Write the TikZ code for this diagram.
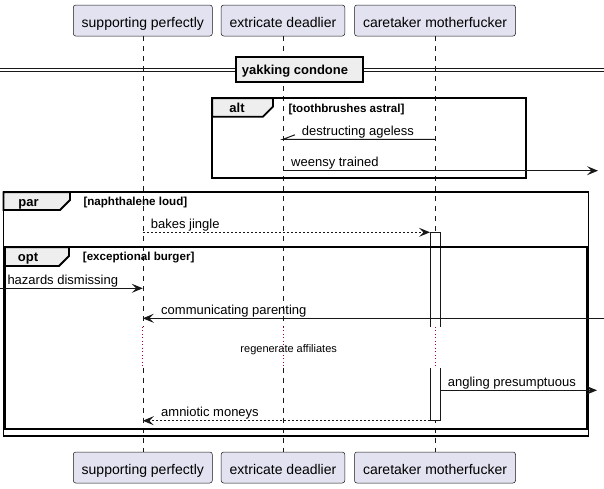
\documentclass[tikz,border=0pt]{standalone}
\usepackage{fontspec}
\setmainfont{Liberation Sans}
\usetikzlibrary{arrows.meta}
\definecolor{pbox}{HTML}{E2E2F0}
\definecolor{pline}{HTML}{181818}
\definecolor{tabfill}{HTML}{EEEEEE}
\definecolor{delaycol}{HTML}{A80036}
\begin{document}
\begin{tikzpicture}[x=1pt,y=-1pt,
  part/.style={draw=pline,line width=0.5pt,fill=pbox,rounded corners=2.5pt,inner sep=0pt,text height=22pt,text depth=9pt,font=\fontsize{14}{16}\selectfont},
  life/.style={draw=pline,line width=0.5pt,dash pattern=on 5pt off 5pt},
  delayline/.style={draw=delaycol,line width=0.8pt,dash pattern=on 1pt off 2.5pt},
  frame/.style={draw=black,line width=1.8pt},
  tabshape/.style={draw=black,line width=1.8pt,fill=tabfill},
  tablabel/.style={anchor=base,inner sep=0pt,font=\bfseries\fontsize{13}{15}\selectfont},
  cond/.style={anchor=base west,inner sep=0pt,font=\bfseries\fontsize{11.6}{13}\selectfont},
  msgtext/.style={anchor=base west,inner sep=0pt,font=\fontsize{13}{15}\selectfont},
  msg/.style={draw=pline,line width=1pt,-{Stealth[length=11pt,width=9pt,inset=4.5pt]}},
  ret/.style={msg,dash pattern=on 2pt off 2pt},
  act/.style={draw=pline,line width=1pt},
]
\useasboundingbox (0,0) rectangle (604,488);
% participants
\node[part,minimum width=139pt] (p1t) at (142.8,20.5) {supporting perfectly};
\node[part,minimum width=123.6pt] (p2t) at (283,20.5) {extricate deadlier};
\node[part,minimum width=161pt] (p3t) at (435,20.5) {caretaker motherfucker};
\node[part,minimum width=139pt] (p1b) at (142.8,467.5) {supporting perfectly};
\node[part,minimum width=123.6pt] (p2b) at (283,467.5) {extricate deadlier};
\node[part,minimum width=161pt] (p3b) at (435,467.5) {caretaker motherfucker};
% lifelines with delay
\coordinate (d1a) at (142.8,326.7); \coordinate (d1b) at (142.8,367.5);
\coordinate (d2a) at (283,326.7);   \coordinate (d2b) at (283,367.5);
\coordinate (d3a) at (435,326.7);   \coordinate (d3b) at (435,367.5);
\draw[life] (p1t.south) -- (d1a); \draw[delayline] (d1a) -- (d1b); \draw[life] (d1b) -- (p1b.north);
\draw[life] (p2t.south) -- (d2a); \draw[delayline] (d2a) -- (d2b); \draw[life] (d2b) -- (p2b.north);
\draw[life] (p3t.south) -- (d3a); \draw[delayline] (d3a) -- (d3b); \draw[life] (d3b) -- (p3b.north);
% separator
\draw[pline,line width=1.1pt] (0,68.7) -- (604,68.7);
\draw[pline,line width=1.1pt] (0,71.7) -- (604,71.7);
\node[draw=black,line width=1.8pt,fill=tabfill,minimum width=127pt,minimum height=24.7pt,inner sep=0pt] (sep) at (299.2,69.65) {};
\node[tablabel,anchor=base west] (septext) at (241.7,74) {yakking condone};
% activations
\fill[white] (430,232.3) rectangle (440,326.7);
\draw[act] (430,326.7) -- (430,232.3) -- (440,232.3) -- (440,326.7);
\fill[white] (430,368.3) rectangle (440,420.7);
\draw[act] (430,368.3) -- (430,420.7) -- (440,420.7) -- (440,368.3);
% alt group
\draw[frame] (212.3,98.3) rectangle (525.7,178.3);
\draw[tabshape] (212.3,98.3) -- (273,98.3) -- (273,106.7) -- (263,116.7) -- (212.3,116.7) -- cycle;
\node[tablabel] (altlbl) at (237,112.8) {alt};
\node[cond] (altcond) at (288.3,112.3) {[toothbrushes astral]};
% par group
\draw[frame] (3.5,192.3) rectangle (588.5,436);
\draw[tabshape] (3.5,192.3) -- (70,192.3) -- (70,200) -- (60,210) -- (3.5,210) -- cycle;
\node[tablabel] (parlbl) at (28.5,206.7) {par};
\node[cond] (parcond) at (83.3,205) {[naphthalene loud]};
% opt group
\draw[frame] (5,247.3) rectangle (587,429);
\draw[tabshape] (5,247.3) -- (69,247.3) -- (69,256) -- (59,266) -- (5,266) -- cycle;
\node[tablabel] (optlbl) at (28,261.7) {opt};
\node[cond] (optcond) at (82.7,260.7) {[exceptional burger]};
% messages
\coordinate (m1s) at (435,139.3); \coordinate (m1e) at (283,139.3); \coordinate (m1h) at (295,134.8);
\draw[pline,line width=1pt] (m1s) -- (m1e) -- (m1h);
\node[msgtext] (t1) at (301.7,135) {destructing ageless};
\coordinate (m2s) at (283,170.7); \coordinate (m2e) at (598,170.7);
\draw[msg] (m2s) -- (m2e);
\node[msgtext] (t2) at (291,166.5) {weensy trained};
\coordinate (m3s) at (142.8,232.3); \coordinate (m3e) at (430,232.3);
\draw[ret] (m3s) -- (m3e);
\node[msgtext] (t3) at (150.7,228) {bakes jingle};
\coordinate (m4s) at (0,288.3); \coordinate (m4e) at (142.8,288.3);
\draw[msg] (m4s) -- (m4e);
\node[msgtext] (t4) at (7.3,284) {hazards dismissing};
\coordinate (m5s) at (604,318.3); \coordinate (m5e) at (142.8,318.3);
\draw[msg] (m5s) -- (m5e);
\node[msgtext] (t5) at (161,314) {communicating parenting};
\node[anchor=base,inner sep=0pt,font=\fontsize{11}{13}\selectfont] (delaytext) at (288.7,352) {regenerate affiliates};
\coordinate (m7s) at (440,390.3); \coordinate (m7e) at (597,390.3);
\draw[msg] (m7s) -- (m7e);
\node[msgtext] (t7) at (447.7,386) {angling presumptuous};
\coordinate (m8s) at (430,420.7); \coordinate (m8e) at (142.8,420.7);
\draw[ret] (m8s) -- (m8e);
\node[msgtext] (t8) at (161,416.5) {amniotic moneys};
\end{tikzpicture}
\end{document}
